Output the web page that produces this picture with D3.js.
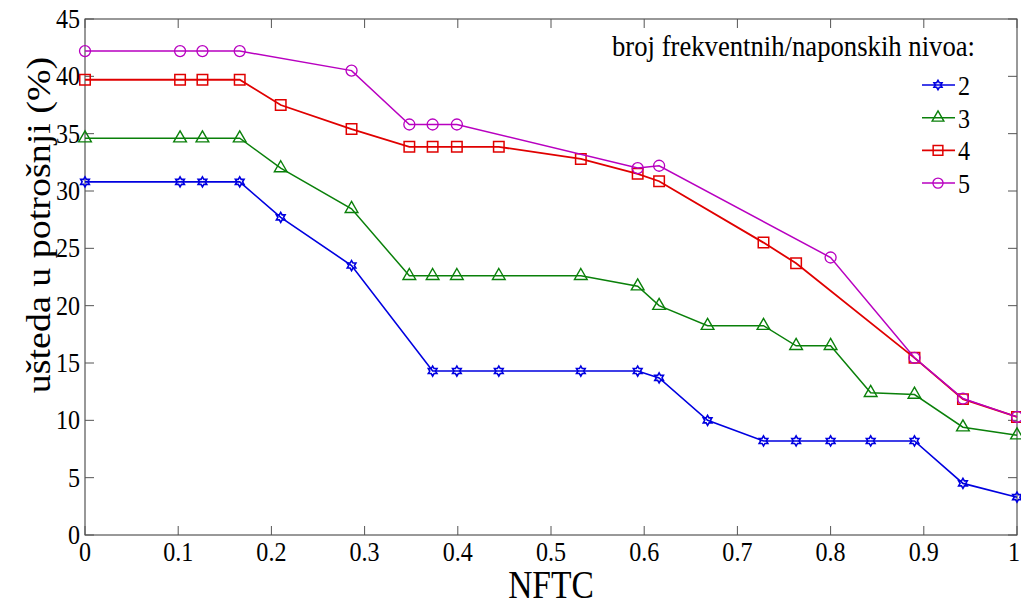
<!DOCTYPE html>
<html><head><meta charset="utf-8">
<script src="https://cdn.jsdelivr.net/npm/d3@7/dist/d3.min.js"></script>
<style>
html,body{margin:0;padding:0;background:#fff;}
svg{display:block;}
</style></head>
<body>
<svg id="chart" width="1021" height="600"></svg>
<script>
// ---- data ----
const xTicks = [0,0.1,0.2,0.3,0.4,0.5,0.6,0.7,0.8,0.9,1];
const xTickLabels = ["0","0.1","0.2","0.3","0.4","0.5","0.6","0.7","0.8","0.9","1"];
const yTicks = [0,5,10,15,20,25,30,35,40,45];
const yTickLabels = ["0","5","10","15","20","25","30","35","40","45"];

const x2 = [0,0.102,0.126,0.166,0.21,0.286,0.373,0.399,0.444,0.532,0.593,0.616,0.668,0.728,0.763,0.8,0.843,0.89,0.942,1];
const y2 = [30.8,30.8,30.8,30.8,27.7,23.5,14.3,14.3,14.3,14.3,14.3,13.7,10.0,8.2,8.2,8.2,8.2,8.2,4.5,3.3];

const x3 = [0,0.102,0.126,0.166,0.21,0.286,0.348,0.373,0.399,0.444,0.532,0.593,0.616,0.668,0.728,0.763,0.8,0.843,0.89,0.942,1];
const y3 = [34.6,34.6,34.6,34.6,32.0,28.45,22.6,22.6,22.6,22.6,22.6,21.7,20.0,18.25,18.25,16.5,16.5,12.4,12.25,9.4,8.7];

const x4 = [0,0.102,0.126,0.166,0.21,0.286,0.348,0.373,0.399,0.444,0.532,0.593,0.616,0.728,0.763,0.89,0.942,1];
const y4 = [39.7,39.7,39.7,39.7,37.5,35.4,33.85,33.85,33.85,33.85,32.8,31.5,30.85,25.5,23.7,15.45,11.85,10.3];

const x5 = [0,0.102,0.126,0.166,0.286,0.348,0.373,0.399,0.593,0.616,0.8,0.89,0.942,1];
const y5 = [42.2,42.2,42.2,42.2,40.5,35.8,35.8,35.8,32.0,32.2,24.2,15.45,11.9,10.3];

const seriesNames = ["2","3","4","5"];
const legendTitle = "broj frekventnih/naponskih nivoa:";
const xLabel = "NFTC";
const yLabel = "ušteda u potrošnji (%)";

// ---- layout ----
const svg = d3.select("#chart");
const L = 85, R = 1017, T = 19, B = 535;
const x = d3.scaleLinear().domain([0,1]).range([L,R]);
const y = d3.scaleLinear().domain([0,45]).range([B,T]);

const hexagram = {
  draw(ctx, size){
    const Ro = Math.sqrt(size), Ri = Ro/Math.sqrt(3);
    for(let i=0;i<12;i++){
      const a = i*Math.PI/6 - Math.PI/2;
      const r = i%2===0 ? Ro : Ri;
      const px = r*Math.cos(a), py = r*Math.sin(a);
      if(i===0) ctx.moveTo(px,py); else ctx.lineTo(px,py);
    }
    ctx.closePath();
  }
};

const series = [
  {name:seriesNames[0], xs:x2, ys:y2, color:"#0000e0", sym:hexagram, size:25, lw:1.6, mw:1.6},
  {name:seriesNames[1], xs:x3, ys:y3, color:"#0a800a", sym:d3.symbolTriangle, size:70, lw:1.5, mw:1.4},
  {name:seriesNames[2], xs:x4, ys:y4, color:"#e00000", sym:d3.symbolSquare, size:110, lw:1.8, mw:1.5},
  {name:seriesNames[3], xs:x5, ys:y5, color:"#b800c0", sym:d3.symbolCircle, size:95, lw:1.5, mw:1.3}
];

const FONT = "Liberation Serif, Times New Roman, serif";
// sx/sy: extra scale in the text's own frame (reference text is horizontally condensed)
function txt(g, tx, ty, s, size, anchor, rot, sx, sy){
  return g.append("text")
    .attr("transform", `translate(${tx},${ty})` + (rot?` rotate(${rot})`:"") + ` scale(${sx},${sy})`)
    .attr("font-family", FONT)
    .attr("font-size", size).attr("text-anchor", anchor).attr("fill","#000")
    .text(s);
}

// axes box
const axG = svg.append("g");
axG.append("rect").attr("x",L).attr("y",T).attr("width",R-L).attr("height",B-T)
  .attr("fill","none").attr("stroke","#333").attr("stroke-width",1);

const tl = 9;
xTicks.forEach((v,i)=>{
  axG.append("line").attr("x1",x(v)).attr("x2",x(v)).attr("y1",B).attr("y2",B-tl).attr("stroke","#555");
  axG.append("line").attr("x1",x(v)).attr("x2",x(v)).attr("y1",T).attr("y2",T+tl).attr("stroke","#555");
  txt(axG, Math.min(x(v), 1014), 561, xTickLabels[i], 28, "middle", 0, 0.86, 1);
});
yTicks.forEach((v,i)=>{
  axG.append("line").attr("x1",L).attr("x2",L+tl).attr("y1",y(v)).attr("y2",y(v)).attr("stroke","#555");
  axG.append("line").attr("x1",R).attr("x2",R-tl).attr("y1",y(v)).attr("y2",y(v)).attr("stroke","#555");
  txt(axG, 80, y(v)+9, yTickLabels[i], 28, "end", 0, 0.86, 1);
});

// axis labels
txt(svg, (L+R)/2, 598, xLabel, 39, "middle", 0, 0.86, 1);
txt(svg, 50, 225, yLabel, 38, "middle", -90, 1, 0.9);

// series
const line = d3.line().x(d=>x(d[0])).y(d=>y(d[1]));
series.forEach(s=>{
  const pts = s.xs.map((v,i)=>[v,s.ys[i]]);
  const g = svg.append("g");
  g.append("path").attr("d", line(pts)).attr("fill","none").attr("stroke",s.color).attr("stroke-width",s.lw);
  g.selectAll("path.m").data(pts).enter().append("path").attr("class","m")
    .attr("transform", d=>`translate(${x(d[0])},${y(d[1])})`)
    .attr("d", d3.symbol().type(s.sym).size(s.size)())
    .attr("fill","none").attr("stroke",s.color).attr("stroke-width",s.mw);
});

// legend
const lg = svg.append("g");
txt(lg, 975, 56, legendTitle, 29, "end", 0, 0.92, 1);
series.forEach((s,i)=>{
  const ly = 85 + i*32.7;
  lg.append("line").attr("x1",922).attr("x2",955).attr("y1",ly).attr("y2",ly).attr("stroke",s.color).attr("stroke-width",s.lw);
  lg.append("path").attr("transform",`translate(938,${ly})`).attr("d", d3.symbol().type(s.sym).size(s.size*0.85)())
    .attr("fill","none").attr("stroke",s.color).attr("stroke-width",s.mw);
  txt(lg, 958, ly+10, s.name, 28, "start", 0, 0.86, 1);
});
</script>
</body></html>
